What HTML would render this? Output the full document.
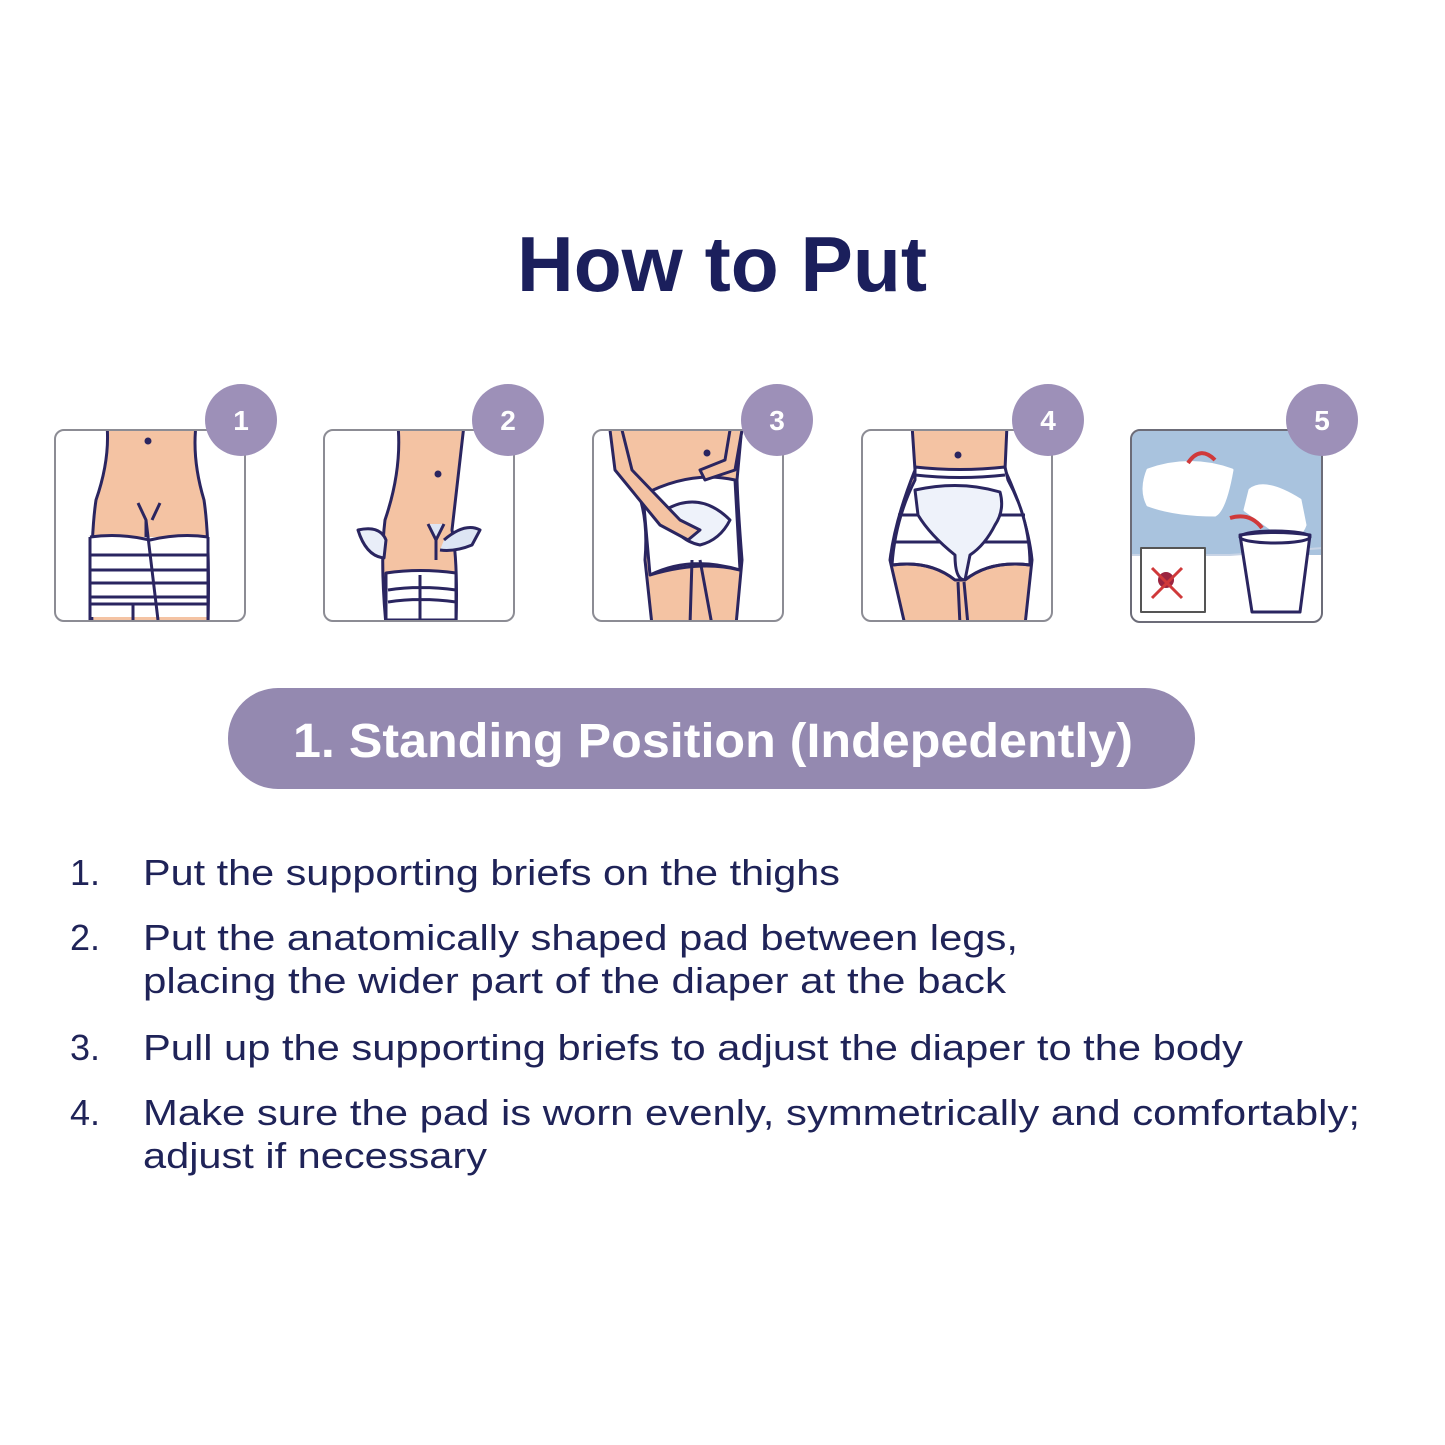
<!DOCTYPE html>
<html><head><meta charset="utf-8"><style>
html,body{margin:0;padding:0;background:#fff}
svg{display:block}
text{font-family:"Liberation Sans",sans-serif}
</style></head><body>
<svg width="1445" height="1445" viewBox="0 0 1445 1445" xmlns="http://www.w3.org/2000/svg">
<rect width="1445" height="1445" fill="#fff"/>
<text x="722" y="291" text-anchor="middle" font-size="78" font-weight="bold" fill="#1b1f5c" textLength="410" lengthAdjust="spacingAndGlyphs">How to Put</text>

<defs>
<clipPath id="c1"><rect x="56" y="431" width="188" height="189" rx="8"/></clipPath>
<clipPath id="c2"><rect x="325" y="431" width="188" height="189" rx="8"/></clipPath>
<clipPath id="c3"><rect x="594" y="431" width="188" height="189" rx="8"/></clipPath>
<clipPath id="c4"><rect x="863" y="431" width="188" height="189" rx="8"/></clipPath>
<clipPath id="c5"><rect x="1132" y="431" width="189" height="190" rx="8"/></clipPath>
</defs>

<g stroke="#2a2560" stroke-width="3" stroke-linejoin="round" fill="none">
<!-- panel 1 -->
<g clip-path="url(#c1)">
<path d="M107 425 Q110 460 96 500 Q90 540 92 625 L208 625 Q210 540 204 500 Q192 460 196 425 Z" fill="#f4c3a3"/>
<path d="M138 503 L146 520 L146 540 M160 503 L152 520" />
<rect x="90" y="537" width="118" height="80" fill="#fff" stroke="none"/>
<path d="M90 537 Q120 533 150 540 Q180 533 208 537 M90 555 L208 555 M90 570 L208 570 M90 583 L208 583 M90 597 L208 597 M90 604 L208 604 M90 537 L90 620 M208 537 L208 620 M146 520 L158 620 M133 604 L133 620"/>
<circle cx="148" cy="441" r="2" fill="#2a2560"/>
</g>
<rect x="55" y="430" width="190" height="191" rx="9" stroke="#8c8c94" stroke-width="2"/>
<!-- panel 2 -->
<g clip-path="url(#c2)">
<path d="M398 425 Q402 470 385 520 Q380 560 386 625 L456 625 Q458 560 452 530 L464 425 Z" fill="#f4c3a3"/>
<path d="M358 530 Q380 525 386 540 L384 558 Q366 556 358 530 Z" fill="#e9eef8"/>
<path d="M428 524 L436 540 L444 524 M436 540 L436 560 M444 540 Q465 522 480 530 L472 545 Q455 552 440 550" fill="#dde5f4"/>
<path d="M386 573 Q420 568 456 573 L456 620 L386 620 Z" fill="#fff"/>
<path d="M388 590 Q420 585 456 590 M388 602 Q420 597 456 602 M420 575 L420 620"/>
<circle cx="438" cy="474" r="2" fill="#2a2560"/>
</g>
<rect x="324" y="430" width="190" height="191" rx="9" stroke="#8c8c94" stroke-width="2"/>
<!-- panel 3 -->
<g clip-path="url(#c3)">
<path d="M615 425 L625 470 Q650 500 645 560 L652 625 L736 625 L742 560 Q738 510 737 480 L742 425 Z" fill="#f4c3a3"/>
<path d="M643 495 Q690 470 735 480 L740 570 Q700 560 650 575 Z" fill="#fff"/>
<path d="M650 575 Q690 555 740 570 M692 560 L690 625 M700 560 L712 625"/>
<path d="M665 510 Q700 490 730 520 Q720 540 700 545 Q675 540 665 510 Z" fill="#eef2fa"/>
<path d="M622 430 L632 470 L680 520 L700 530 L688 540 L660 525 L615 470 L610 430" fill="#f4c3a3"/>
<path d="M742 430 L735 470 L705 480 L700 470 L725 460 L730 430" fill="#f4c3a3"/>
<circle cx="707" cy="453" r="2" fill="#2a2560"/>
</g>
<rect x="593" y="430" width="190" height="191" rx="9" stroke="#8c8c94" stroke-width="2"/>
<!-- panel 4 -->
<g clip-path="url(#c4)">
<path d="M912 425 L915 470 Q895 520 890 560 L905 625 L1025 625 L1032 560 Q1028 520 1005 470 L1007 425 Z" fill="#f4c3a3"/>
<path d="M915 467 Q960 472 1005 467 L1008 480 Q1030 520 1030 565 Q990 560 965 580 L955 580 Q930 560 892 565 Q895 520 915 480 Z" fill="#fff"/>
<path d="M915 475 Q960 480 1005 475 M898 515 L1025 515 M892 542 L1028 542 M893 565 Q930 560 955 580 M965 580 Q990 560 1030 565 M958 582 L960 625 M964 582 L968 625"/>
<path d="M915 490 Q960 480 1000 492 Q1005 510 995 525 Q985 545 970 555 L965 580 Q955 580 955 555 Q930 535 918 515 Z" fill="#eef2fa"/>
<circle cx="958" cy="455" r="2" fill="#2a2560"/>
</g>
<rect x="862" y="430" width="190" height="191" rx="9" stroke="#8c8c94" stroke-width="2"/>
<!-- panel 5 -->
<g clip-path="url(#c5)">
<rect x="1131" y="430" width="191" height="125" fill="#a9c3de" stroke="none"/>
<path d="M1131 555 L1230 555 L1322 548" stroke="#c8d4e6" stroke-width="2"/>
<path d="M1148 470 Q1190 455 1232 470 Q1225 510 1215 515 Q1175 515 1148 505 Q1140 490 1148 470 Z" fill="#fff" stroke="#fff"/>
<path d="M1250 490 Q1265 478 1300 500 L1305 525 Q1300 540 1280 535 L1245 510 Z" fill="#fff" stroke="#fff"/>
<path d="M1240 535 Q1275 530 1310 535 L1300 612 L1252 612 Z" fill="#fff"/>
<ellipse cx="1275" cy="537" rx="35" ry="6"/>
<path d="M1188 463 Q1200 445 1215 460" stroke="#d0393a" stroke-width="4"/>
<path d="M1230 518 Q1250 512 1262 528" stroke="#d0393a" stroke-width="4"/>
<rect x="1141" y="548" width="64" height="64" fill="#fff" stroke="#555" stroke-width="2"/>
<circle cx="1166" cy="580" r="8" fill="#9b2440" stroke="none"/>
<path d="M1152 568 L1182 598 M1182 568 L1152 598" stroke="#d0393a" stroke-width="3"/>
</g>
<rect x="1131" y="430" width="191" height="192" rx="9" stroke="#6c6c78" stroke-width="2"/>
</g>

<g fill="#9d90b8">
<circle cx="241" cy="420" r="36"/><circle cx="508" cy="420" r="36"/><circle cx="777" cy="420" r="36"/><circle cx="1048" cy="420" r="36"/><circle cx="1322" cy="420" r="36"/>
</g>
<g fill="#fff" font-size="28" font-weight="bold" text-anchor="middle">
<text x="241" y="430">1</text><text x="508" y="430">2</text><text x="777" y="430">3</text><text x="1048" y="430">4</text><text x="1322" y="430">5</text>
</g>

<rect x="228" y="688" width="967" height="101" rx="50" fill="#9489b0"/>
<text x="293" y="757" font-size="48" font-weight="bold" fill="#fff" textLength="840" lengthAdjust="spacingAndGlyphs">1. Standing Position (Indepedently)</text>

<g fill="#1f2358" font-size="36">
<text x="70" y="885">1.</text>
<text x="143" y="885" textLength="697" lengthAdjust="spacingAndGlyphs">Put the supporting briefs on the thighs</text>
<text x="70" y="950">2.</text>
<text x="143" y="950" textLength="875" lengthAdjust="spacingAndGlyphs">Put the anatomically shaped pad between legs,</text>
<text x="143" y="993" textLength="863" lengthAdjust="spacingAndGlyphs">placing the wider part of the diaper at the back</text>
<text x="70" y="1060">3.</text>
<text x="143" y="1060" textLength="1100" lengthAdjust="spacingAndGlyphs">Pull up the supporting briefs to adjust the diaper to the body</text>
<text x="70" y="1125">4.</text>
<text x="143" y="1125" textLength="1217" lengthAdjust="spacingAndGlyphs">Make sure the pad is worn evenly, symmetrically and comfortably;</text>
<text x="143" y="1168" textLength="344" lengthAdjust="spacingAndGlyphs">adjust if necessary</text>
</g>
</svg>
</body></html>
